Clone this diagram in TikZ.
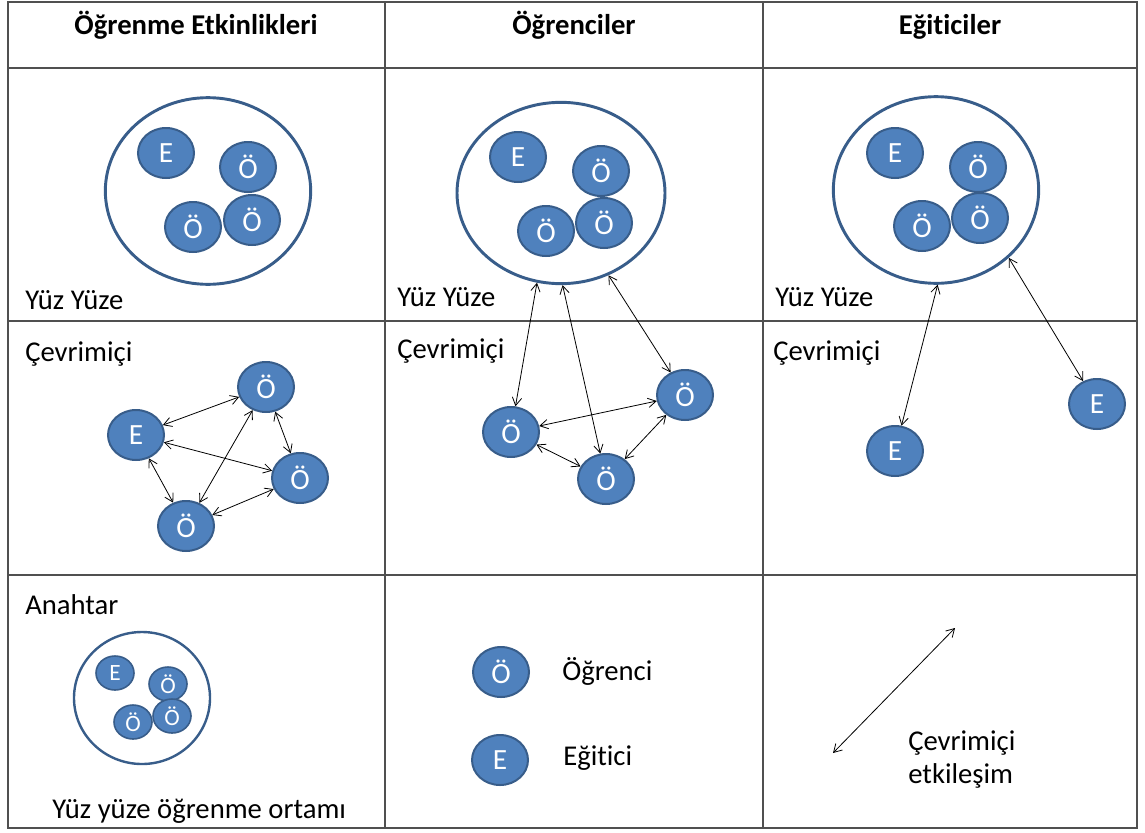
\documentclass[tikz,border=0pt]{standalone}
\usepackage{fontspec}
\setmainfont{Carlito}[Ligatures=CommonOff]
\usetikzlibrary{shapes.geometric,arrows.meta}
\definecolor{bfill}{HTML}{4F81BD}
\definecolor{bline}{HTML}{385D8A}
\definecolor{gridc}{HTML}{505050}
\tikzset{
  bub/.style={ellipse, fill=bfill, draw=bline, line width=1.5pt, minimum width=42pt, minimum height=37.5pt, inner sep=0pt, text=white, font=\fontsize{22}{26}\selectfont},
  sbub/.style={bub, minimum width=28.5pt, minimum height=25.5pt, line width=1.2pt, font=\fontsize{17.5}{20}\selectfont},
  bigc/.style={ellipse, draw=bline, line width=2.2pt, fill=white, inner sep=0pt, minimum width=154pt, minimum height=140pt},
  lab/.style={anchor=base west, inner sep=0pt, font=\fontsize{21.5}{25}\selectfont},
  head/.style={anchor=base, inner sep=0pt, font=\fontsize{21.5}{25}\selectfont\bfseries},
  link/.style={<->, >={Straight Barb[length=6pt,width=7pt]}, line width=0.6pt, black},
  gridl/.style={draw=gridc, line width=0.9pt}
}
\begin{document}
\begin{tikzpicture}[x=0.75pt,y=-0.75pt]
\useasboundingbox (0,0) rectangle (1145,832);
% table
\draw[gridl] (8,2) rectangle (1137,828);
\draw[gridl] (8,68) -- (1137,68);
\draw[gridl] (8,321) -- (1137,321);
\draw[gridl] (8,575) -- (1137,575);
\draw[gridl] (385,2) -- (385,828);
\draw[gridl] (763,2) -- (763,828);
% headers
\node[head] (h1) at (196,34) {Öğrenme Etkinlikleri};
\node[head] (h2) at (574,34) {Öğrenciler};
\node[head] (h3) at (950,34) {Eğiticiler};
% row labels
\node[lab] (y1) at (25,309) {Yüz Yüze};
\node[lab] (y2) at (397,306) {Yüz Yüze};
\node[lab] (y3) at (775,306) {Yüz Yüze};
\node[lab] (c1) at (25,361) {Çevrimiçi};
\node[lab] (c2) at (397,358) {Çevrimiçi};
\node[lab] (c3) at (773,360) {Çevrimiçi};
% face to face groups
\node[bigc] (b1) at (208,191) {};
\node[bub] (b1e) at (166,153) {E};
\node[bub] (b1a) at (248,167) {Ö};
\node[bub] (b1b) at (193,227) {Ö};
\node[bub] (b1c) at (252,220) {Ö};
\node[bigc, minimum width=156pt, minimum height=136pt] (b2) at (561,193) {};
\node[bub] (b2e) at (518,157) {E};
\node[bub] (b2a) at (601,171) {Ö};
\node[bub] (b2b) at (546,231) {Ö};
\node[bub] (b2c) at (604,223) {Ö};
\node[bigc] (b3) at (936,190) {};
\node[bub] (b3e) at (895,153) {E};
\node[bub] (b3a) at (978,167) {Ö};
\node[bub] (b3b) at (922,226) {Ö};
\node[bub] (b3c) at (980,218) {Ö};
% online left
\node[bub] (oe) at (136,435) {E};
\node[bub] (oa) at (266,387) {Ö};
\node[bub] (ob) at (300,478) {Ö};
\node[bub] (oc) at (186,526) {Ö};
\draw[link] (oe) -- (oa);
\draw[link] (oe) -- (ob);
\draw[link] (oe) -- (oc);
\draw[link] (oa) -- (oc);
\draw[link] (oa) -- (ob);
\draw[link] (oc) -- (ob);
% online middle
\node[bub] (ml) at (511,432) {Ö};
\node[bub] (mr) at (685,395) {Ö};
\node[bub] (md) at (606,479) {Ö};
\draw[link] (b2.255) -- (ml);
\draw[link] (b2.271) -- (md);
\draw[link] (b2.300) -- (mr);
\draw[link] (ml) -- (mr);
\draw[link] (ml) -- (md);
\draw[link] (md) -- (mr);
% online right
\node[bub] (re1) at (895,451) {E};
\node[bub] (re2) at (1097,404) {E};
\draw[link] (b3.271) -- (re1);
\draw[link] (b3.317) -- (re2);
% legend
\node[lab] (an) at (25,614) {Anahtar};
\node[ellipse, draw=bline, line width=1.8pt, fill=white, inner sep=0pt, minimum width=102pt, minimum height=99pt] (kb) at (142,698) {};
\node[sbub] (ke) at (115,673) {E};
\node[sbub] (ka) at (168,684) {Ö};
\node[sbub] (kb1) at (133,722) {Ö};
\node[sbub] (kc) at (172,716) {Ö};
\node[lab] (ky) at (52,818) {Yüz yüze öğrenme ortamı};
\node[bub] (lo) at (501,672) {Ö};
\node[bub] (le) at (500,760) {E};
\node[lab] (lot) at (562,680) {Öğrenci};
\node[lab] (let) at (563,765) {Eğitici};
\coordinate (la) at (833,753);
\coordinate (lb) at (955,628);
\draw[link] (la) -- (lb);
\node[lab] (lc1) at (908,750) {Çevrimiçi};
\node[lab] (lc2) at (908,783) {etkileşim};
\end{tikzpicture}
\end{document}
